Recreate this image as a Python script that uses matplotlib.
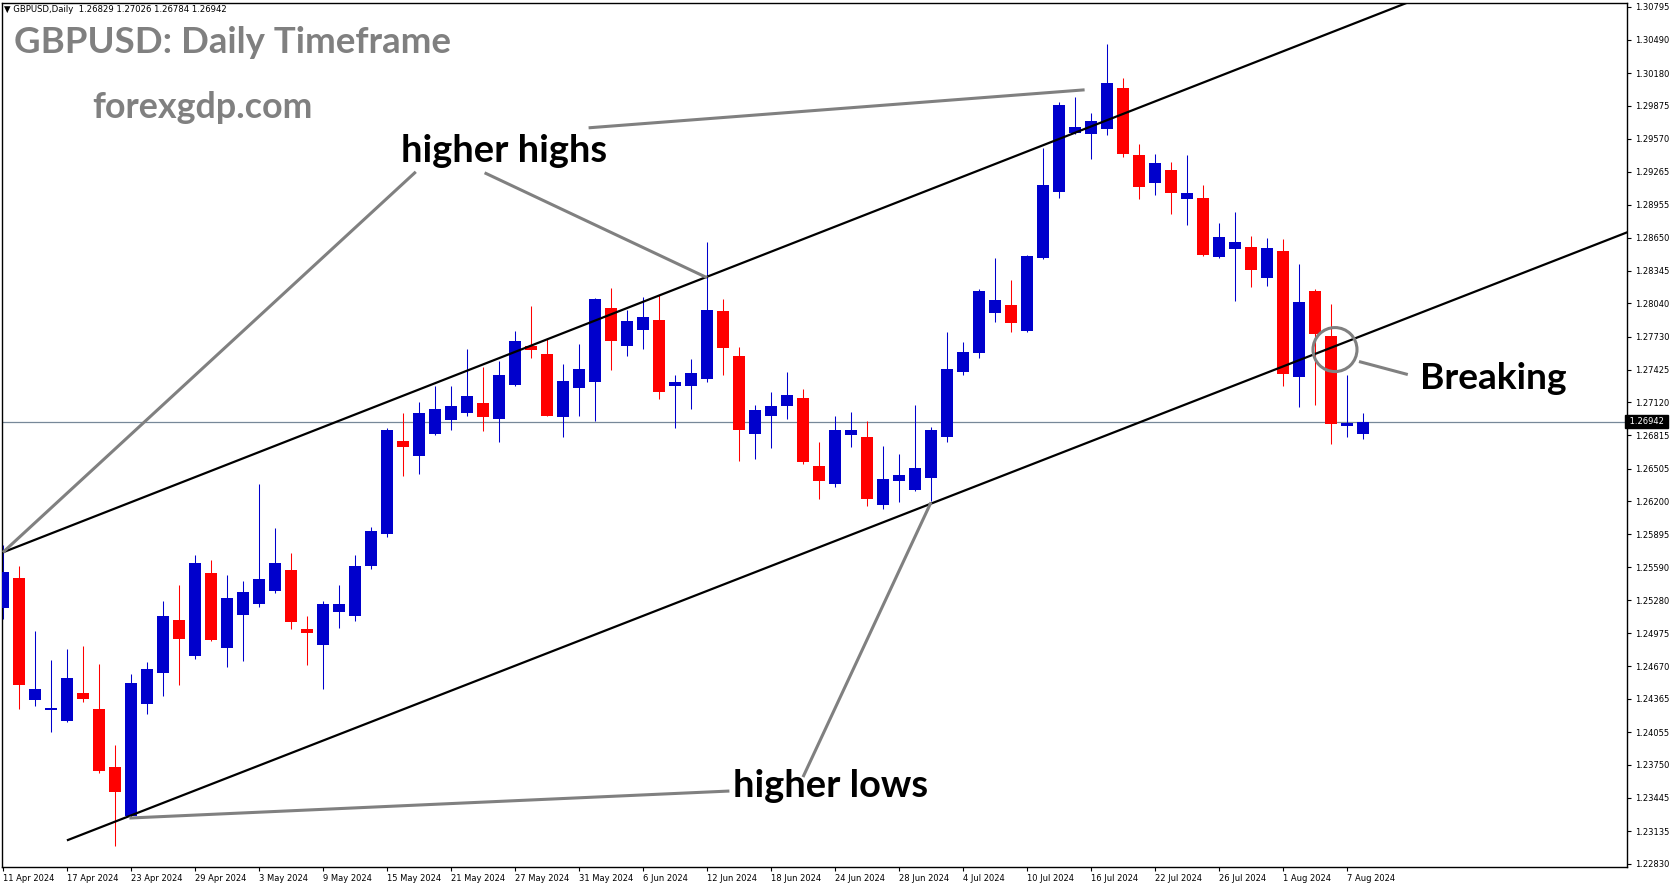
import matplotlib
matplotlib.use("Agg")
import matplotlib.pyplot as plt
from matplotlib.patches import Ellipse
import numpy as np

# GBPUSD daily candles, 11 Apr 2024 .. 8 Aug 2024 (one bar per weekday)
opens = [1.25207, 1.25485, 1.24353, 1.24260, 1.24158, 1.24418, 1.24269, 1.23731, 1.23276, 1.24316,
         1.24603, 1.25095, 1.24761, 1.25532, 1.24835, 1.25142, 1.25244, 1.25365, 1.25559, 1.25012,
         1.24863, 1.25170, 1.25132, 1.25597, 1.25894, 1.26757, 1.26618, 1.26822, 1.26952, 1.27026,
         1.27119, 1.26970, 1.27286, 1.27648, 1.27574, 1.26980, 1.27258, 1.27314, 1.28001, 1.27648,
         1.27797, 1.27889, 1.27268, 1.27277, 1.27333, 1.27973, 1.27555, 1.26822, 1.26998, 1.27082,
         1.27165, 1.26525, 1.26358, 1.26813, 1.26803, 1.26163, 1.26386, 1.26302, 1.26413, 1.26794,
         1.27407, 1.27583, 1.27954, 1.28029, 1.27787, 1.28465, 1.29078, 1.29625, 1.29616, 1.29663,
         1.30043, 1.29421, 1.29161, 1.29282, 1.29013, 1.29022, 1.28474, 1.28549, 1.28567, 1.28279,
         1.28530, 1.27360, 1.28159, 1.27741, 1.26905, 1.26829]
highs = [1.25791, 1.25597, 1.24993, 1.24724, 1.24826, 1.24854, 1.24687, 1.23935, 1.24594, 1.24705,
         1.25272, 1.25420, 1.25699, 1.25652, 1.25513, 1.25457, 1.26358, 1.25949, 1.25717, 1.25132,
         1.25272, 1.25420, 1.25699, 1.25959, 1.26878, 1.27017, 1.27128, 1.27277, 1.27277, 1.27620,
         1.27453, 1.27509, 1.27787, 1.28019, 1.27722, 1.27481, 1.27667, 1.28094, 1.28187, 1.27982,
         1.28103, 1.28122, 1.27379, 1.27527, 1.28614, 1.28084, 1.27639, 1.27100, 1.27221, 1.27407,
         1.27249, 1.26748, 1.26989, 1.27035, 1.26943, 1.26711, 1.26636, 1.27100, 1.26887, 1.27778,
         1.27685, 1.28177, 1.28465, 1.28261, 1.28493, 1.29486, 1.29913, 1.29960, 1.29811, 1.30452,
         1.30136, 1.29523, 1.29430, 1.29356, 1.29421, 1.29143, 1.28790, 1.28892, 1.28669, 1.28651,
         1.28641, 1.28409, 1.28177, 1.28038, 1.27370, 1.27026]
lows = [1.25105, 1.24269, 1.24297, 1.24056, 1.24148, 1.24334, 1.23675, 1.22997, 1.23267, 1.24223,
        1.24390, 1.24492, 1.24733, 1.24900, 1.24659, 1.24715, 1.25216, 1.25346, 1.25012, 1.24678,
        1.24455, 1.25021, 1.25086, 1.25569, 1.25866, 1.26432, 1.26451, 1.26813, 1.26859, 1.26998,
        1.26850, 1.26748, 1.27277, 1.27537, 1.26989, 1.26803, 1.26998, 1.26943, 1.27425, 1.27555,
        1.27620, 1.27156, 1.26878, 1.27054, 1.27305, 1.27379, 1.26571, 1.26590, 1.26692, 1.26970,
        1.26543, 1.26219, 1.26330, 1.26701, 1.26154, 1.26126, 1.26191, 1.26293, 1.26200, 1.26748,
        1.27370, 1.27537, 1.27871, 1.27778, 1.27778, 1.28456, 1.29022, 1.29616, 1.29384, 1.29607,
        1.29403, 1.29013, 1.29050, 1.28873, 1.28771, 1.28484, 1.28465, 1.28066, 1.28196, 1.28205,
        1.27268, 1.27073, 1.27100, 1.26729, 1.26803, 1.26784]
closes = [1.25541, 1.24492, 1.24455, 1.24269, 1.24557, 1.24362, 1.23694, 1.23499, 1.24510, 1.24640,
          1.25132, 1.24919, 1.25624, 1.24910, 1.25300, 1.25355, 1.25476, 1.25624, 1.25077, 1.24975,
          1.25244, 1.25244, 1.25597, 1.25921, 1.26868, 1.26701, 1.27017, 1.27063, 1.27091, 1.27175,
          1.26980, 1.27370, 1.27695, 1.27611, 1.26998, 1.27323, 1.27435, 1.28084, 1.27695, 1.27880,
          1.27917, 1.27212, 1.27314, 1.27397, 1.27982, 1.27630, 1.26868, 1.27045, 1.27091, 1.27193,
          1.26562, 1.26386, 1.26868, 1.26868, 1.26219, 1.26404, 1.26441, 1.26506, 1.26859, 1.27435,
          1.27592, 1.28159, 1.28075, 1.27862, 1.28484, 1.29143, 1.29885, 1.29681, 1.29737, 1.30090,
          1.29430, 1.29124, 1.29347, 1.29068, 1.29068, 1.28493, 1.28660, 1.28614, 1.28354, 1.28558,
          1.27388, 1.28057, 1.27760, 1.26915, 1.26933, 1.26942]

date_labels = ["11 Apr 2024", "17 Apr 2024", "23 Apr 2024", "29 Apr 2024", "3 May 2024",
               "9 May 2024", "15 May 2024", "21 May 2024", "27 May 2024", "31 May 2024",
               "6 Jun 2024", "12 Jun 2024", "18 Jun 2024", "24 Jun 2024", "28 Jun 2024",
               "4 Jul 2024", "10 Jul 2024", "16 Jul 2024", "22 Jul 2024", "26 Jul 2024",
               "1 Aug 2024", "7 Aug 2024"]
date_ticks = list(range(0, 88, 4))

price_ticks = [1.30795, 1.30490, 1.30180, 1.29875, 1.29570, 1.29265, 1.28955, 1.28650,
               1.28345, 1.28040, 1.27730, 1.27425, 1.27120, 1.26815, 1.26505, 1.26200,
               1.25895, 1.25590, 1.25280, 1.24975, 1.24670, 1.24365, 1.24055, 1.23750,
               1.23445, 1.23135, 1.22830]
bid = 1.26942

# channel lines: (bar, price) pairs
upper_channel = [(-0.1, 1.25721), (100, 1.31547)]
lower_channel = [(4.06, 1.23053), (101.6, 1.28706)]

# gray pointer lines for the notes
pointer_lines = [
    [(0.0, 1.25727), (25.8, 1.29263)],
    [(30.1, 1.29254), (44.0, 1.28279)],
    [(36.6, 1.29672), (67.6, 1.30025)],
    [(7.9, 1.23257), (45.4, 1.23508)],
    [(58.0, 1.26191), (50.0, 1.23638)],
    [(84.75, 1.27500), (87.8, 1.27379)],
]
break_circle = (83.25, 1.27611)

notes = [("higher highs", 24.9, 1.29356, 206),
         ("higher lows", 45.6, 1.23452, 195),
         ("Breaking", 88.56, 1.27249, 147)]

W, H = 1673, 888
fig = plt.figure(figsize=(W / 100, H / 100), dpi=100)
ax = fig.add_axes([2 / W, 21 / H, 1625 / W, 864 / H])
ax.set_xlim(-0.0625, 101.5)
ax.set_ylim(1.22802, 1.30832)

x = np.arange(len(opens))
o = np.array(opens)
c = np.array(closes)
up = c >= o
cols = np.where(up, "#0000CC", "#FF0000")

ax.vlines(x, lows, highs, colors=cols, linewidth=0.75, zorder=2)
body_bottom = np.minimum(o, c)
body_h = np.maximum(np.abs(c - o), 0.00018)
ax.bar(x, body_h, bottom=body_bottom, width=0.69, color=cols, linewidth=0, zorder=3)

ax.axhline(bid, color="#778899", linewidth=0.9, zorder=1)

for line in (upper_channel, lower_channel):
    xs, ys = zip(*line)
    ax.plot(xs, ys, color="black", linewidth=1.6, zorder=4)

for line in pointer_lines:
    xs, ys = zip(*line)
    ax.plot(xs, ys, color="#808080", linewidth=2.2, zorder=5, solid_capstyle="butt")

ax.add_patch(Ellipse(break_circle, 2.75, 0.00409, fill=False, edgecolor="#808080",
                     linewidth=2.2, zorder=5))

renderer = fig.canvas.get_renderer()


def fit_width(t, width_px):
    w = t.get_window_extent(renderer).width
    t.set_fontsize(t.get_fontsize() * width_px / w)


for text, bx, by, wpx in notes:
    t = ax.text(bx, by, text, fontsize=24, fontweight="bold", family="Lato",
                color="black", va="baseline", ha="left", zorder=6)
    fit_width(t, wpx)

t = fig.text(14 / W, 1 - 53 / H, "GBPUSD: Daily Timeframe", fontsize=24,
             fontweight="bold", family="Lato", color="#808080", va="baseline")
fit_width(t, 437)
t = fig.text(92 / W, 1 - 118 / H, "forexgdp.com", fontsize=24,
             fontweight="bold", family="Lato", color="#808080", va="baseline")
fit_width(t, 221)

t = fig.text(4 / W, 1 - 10 / H, "\u25bc GBPUSD,Daily  1.26829 1.27026 1.26784 1.26942",
             fontsize=6, va="center", color="black")
fit_width(t, 224)

# axes look
for s in ax.spines.values():
    s.set_color("black")
    s.set_linewidth(1.0)
ax.yaxis.tick_right()
ax.set_yticks(price_ticks)
ax.set_yticklabels([f"{p:.5f}" for p in price_ticks])
ax.set_xticks(date_ticks)
ax.set_xticklabels(date_labels, ha="left")
ax.tick_params(axis="both", direction="out", length=3, width=0.8, labelsize=6,
               colors="black")
ax.tick_params(axis="y", pad=3)
ax.tick_params(axis="x", pad=2)

ax.text(1.0, bid, " 1.26942 ", transform=ax.get_yaxis_transform(), fontsize=6,
        color="white", va="center", ha="left", clip_on=False,
        bbox=dict(facecolor="black", edgecolor="black", pad=1.2), zorder=7)

fig.savefig("out.png", dpi=100)
